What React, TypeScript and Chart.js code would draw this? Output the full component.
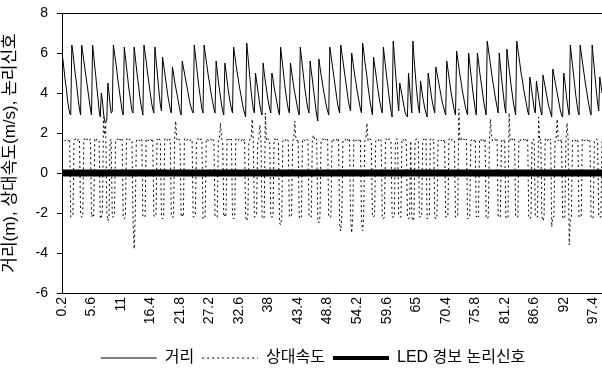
import React, { useEffect, useRef } from 'react';
import { Chart, registerables } from 'chart.js';

Chart.register(...registerables);

const N = 495;
const timeLabels: string[] = Array.from({ length: N }, (_, i) => String(Number((0.2 + 0.2 * i).toFixed(1))));
const xTickLabels = ['0.2', '5.6', '11', '16.4', '21.8', '27.2', '32.6', '38', '43.4', '48.8', '54.2', '59.6', '65', '70.4', '75.8', '81.2', '86.6', '92', '97.4'];
const yTitle = '거리(m), 상대속도(m/s), 논리신호';
const seriesNames = ['거리', '상대속도', 'LED 경보 논리신호'];

const distance = [
  6.0, 5.6, 5.1, 4.6, 4.2, 3.7, 3.3, 3.0, 2.9,
  6.4, 6.0, 5.5, 5.0, 4.6, 4.1, 3.6, 3.2, 2.9,
  6.4, 6.0, 5.6, 5.2, 4.8, 4.4, 4.0, 3.6, 3.2, 2.9,
  6.4, 5.9, 5.3, 4.8, 4.2, 3.7, 3.1, 2.8,
  4.0, 3.6, 3.0, 2.6, 2.5, 2.7,
  4.5, 4.0, 3.4, 3.0, 3.1,
  6.4, 6.0, 5.6, 5.2, 4.7, 4.3, 3.9, 3.5, 3.1, 2.9,
  6.3, 5.8, 5.3, 4.8, 4.3, 3.9, 3.5, 3.1, 3.0,
  6.3, 5.8, 5.3, 4.8, 4.4, 3.9, 3.5, 3.2, 2.9,
  6.4, 6.0, 5.6, 5.1, 4.7, 4.3, 3.9, 3.5, 3.2, 3.0,
  6.3, 5.7, 5.1, 4.5, 3.9, 3.4, 3.1,
  5.8, 5.4, 5.0, 4.6, 4.2, 3.8, 3.5, 3.2, 3.0,
  5.3, 5.0, 4.6, 4.3, 4.0, 3.7, 3.4, 3.1, 2.9,
  5.6, 5.3, 5.0, 4.7, 4.4, 4.1, 3.8, 3.5, 3.3, 3.1, 3.0,
  6.4, 5.9, 5.4, 4.9, 4.4, 4.0, 3.6, 3.2, 3.0,
  6.4, 6.0, 5.6, 5.2, 4.8, 4.5, 4.1, 3.8, 3.5, 3.2, 3.0,
  5.6, 5.1, 4.6, 4.2, 3.8, 3.4, 3.1, 2.9,
  5.5, 5.1, 4.6, 4.2, 3.8, 3.5, 3.2, 3.0,
  6.3, 5.9, 5.5, 5.1, 4.8, 4.4, 4.1, 3.8, 3.5, 3.2, 3.0, 2.8,
  6.5, 5.9, 5.3, 4.7, 4.1, 3.6, 3.2, 3.0,
  5.0, 4.6, 4.2, 3.8, 3.4, 3.1, 2.9,
  5.5, 5.0, 4.6, 4.2, 3.8, 3.5, 3.2, 3.0,
  5.0, 4.7, 4.3, 4.0, 3.7, 3.4, 3.1, 2.9,
  6.3, 5.8, 5.3, 4.8, 4.3, 3.9, 3.5, 3.2, 3.0,
  5.5, 5.1, 4.7, 4.3, 4.0, 3.7, 3.4, 3.1, 2.9,
  6.3, 5.8, 5.3, 4.8, 4.3, 3.9, 3.5, 3.2, 3.0,
  5.6, 5.1, 4.7, 4.2, 3.8, 3.3, 2.9, 2.6,
  5.7, 5.3, 4.9, 4.6, 4.2, 3.9, 3.6, 3.3, 3.1, 2.9,
  6.3, 5.9, 5.5, 5.1, 4.7, 4.3, 3.9, 3.5, 3.2, 3.0,
  6.4, 6.0, 5.6, 5.2, 4.8, 4.4, 4.0, 3.6, 3.3, 3.1,
  6.0, 5.6, 5.2, 4.8, 4.5, 4.1, 3.8, 3.5, 3.2, 3.0,
  6.5, 6.1, 5.6, 5.2, 4.8, 4.3, 3.9, 3.5, 3.2, 2.9,
  5.8, 5.4, 5.0, 4.6, 4.2, 3.8, 3.5, 3.2, 3.0,
  6.3, 5.8, 5.3, 4.8, 4.4, 3.9, 3.5, 3.1, 2.8,
  6.6, 5.9, 5.1, 4.4, 3.7, 3.1,
  4.5, 4.2, 3.9, 3.6, 3.3, 3.0, 2.9, 2.8,
  5.0, 4.3, 3.6, 3.0,
  6.6, 5.8, 5.1, 4.4, 3.8, 3.3, 3.0,
  4.6, 4.2, 3.8, 3.5, 3.2, 3.0, 2.8,
  5.0, 4.6, 4.2, 3.8, 3.5, 3.2, 3.0,
  5.3, 5.0, 4.7, 4.4, 4.1, 3.8, 3.5, 3.3, 3.1, 2.9,
  5.6, 5.2, 4.8, 4.4, 4.0, 3.7, 3.4, 3.1, 2.9,
  6.1, 5.7, 5.3, 4.9, 4.6, 4.2, 3.9, 3.6, 3.3, 3.1, 2.9,
  6.0, 5.5, 5.0, 4.5, 4.0, 3.6, 3.2, 2.9,
  6.0, 5.6, 5.1, 4.7, 4.3, 3.9, 3.5, 3.2, 2.9,
  6.6, 6.2, 5.8, 5.4, 5.0, 4.6, 4.3, 3.9, 3.6, 3.3, 3.0,
  6.0, 5.4, 4.8, 4.3, 3.8, 3.3, 3.0,
  6.2, 5.7, 5.2, 4.8, 4.3, 3.9, 3.5, 3.2, 2.9,
  6.6, 6.2, 5.8, 5.4, 5.0, 4.7, 4.3, 4.0, 3.7, 3.4, 3.1, 2.9,
  4.8, 4.4, 4.0, 3.6, 3.2, 3.0,
  4.6, 4.2, 3.8, 3.4, 3.1, 2.9,
  4.9, 4.6, 4.3, 4.0, 3.7, 3.4, 3.2, 3.0, 2.8,
  5.2, 4.9, 4.6, 4.3, 4.0, 3.7, 3.4, 3.1, 2.9, 2.8,
  5.0, 4.6, 4.1, 3.6, 3.2, 2.9,
  6.4, 5.9, 5.4, 4.9, 4.4, 3.9, 3.5, 3.1, 2.9,
  6.4, 6.0, 5.6, 5.2, 4.8, 4.4, 4.1, 3.7, 3.4, 3.1, 2.9,
  6.4, 5.8, 5.2, 4.6, 4.0, 3.5, 3.1,
  4.8, 4.4, 4.0,
];

const relSpeed = [
  1.6, 1.7, 1.7, 1.6, 1.7, 1.7, 1.6, 1.7, -2.2,
  -2.2, -2.1, 1.6, 1.7, 1.7, 1.6, 1.7, 1.7, -2.1,
  -2.2, -2.2, 1.7, 1.7, 1.6, 1.7, 1.7, 1.6, 1.7, -2.2,
  -2.1, -2.2, 1.7, 1.6, 1.7, 1.7, 1.6, -2.3,
  -2.2, -2.0, 2.8, 1.9, 2.4, -2.0,
  -2.4, -2.2, 1.6, 1.7, -2.2,
  -2.2, -2.1, 1.6, 1.7, 1.7, 1.6, 1.7, 1.6, 1.7, -2.2,
  -2.3, -2.2, 1.7, 1.7, 1.6, 1.7, 1.7, 1.6, -2.4,
  -3.8, -2.2, 1.6, 1.7, 1.7, 1.6, 1.7, 1.7, -2.2,
  -2.2, -2.2, 1.7, 1.7, 1.6, 1.7, 1.7, 1.6, 1.7, -2.1,
  -2.2, -2.1, 1.7, 1.6, 1.7, 1.6, -2.2,
  -2.3, -2.2, 1.7, 1.7, 1.6, 1.7, 1.6, 1.7, -2.2,
  -2.2, -2.2, 1.6, 2.6, 1.7, 1.6, 1.7, 1.6, -2.2,
  -2.1, -2.2, 1.7, 1.7, 1.6, 1.7, 1.7, 1.6, 1.7, 1.6, -2.2,
  -2.2, -2.1, 1.6, 1.7, 1.7, 1.6, 1.7, 1.7, -2.3,
  -2.2, -2.2, 1.7, 1.7, 1.6, 1.7, 1.7, 1.6, 1.7, 1.6, -2.2,
  -2.2, -2.2, 1.6, 1.7, 2.5, 1.7, 1.6, -2.2,
  -2.1, -2.2, 1.7, 1.6, 1.7, 1.6, 1.7, -2.2,
  -2.3, -2.2, 1.7, 1.7, 1.6, 1.7, 1.7, 1.6, 1.7, 1.6, 1.7, -2.2,
  -2.4, -2.2, 1.6, 1.7, 1.7, 2.7, 1.6, -2.2,
  -2.2, -2.1, 1.6, 1.7, 2.4, 1.7, -2.2,
  -2.3, -2.2, 3.0, 1.6, 1.7, 1.7, 1.6, -2.2,
  -2.2, -2.2, 1.7, 1.7, 1.6, 1.7, 1.6, -2.5,
  -2.6, -2.2, 1.6, 1.7, 1.7, 1.6, 1.7, 1.6, -2.2,
  -2.2, -2.1, 1.6, 1.7, 2.6, 1.7, 1.6, 1.7, -2.2,
  -2.3, -2.2, 1.7, 1.7, 1.6, 1.7, 1.7, 1.6, -2.2,
  -2.2, -2.2, 1.6, 1.9, 1.7, 1.6, 1.7, -2.4,
  -2.5, -2.2, 1.6, 1.7, 1.7, 1.6, 1.7, 1.6, 1.7, -2.2,
  -2.2, -2.2, 1.7, 1.7, 1.6, 1.7, 1.7, 1.6, 1.7, -2.6,
  -2.9, -2.2, 1.6, 1.7, 1.7, 1.6, 1.7, 1.6, 1.7, -2.2,
  -3.0, -2.2, 1.7, 1.7, 1.6, 1.7, 1.7, 1.6, 1.7, -2.3,
  -2.9, -2.2, 1.6, 1.7, 2.5, 1.6, 1.7, 1.7, 1.6, -2.2,
  -2.2, -2.1, 1.6, 1.7, 1.7, 1.6, 1.7, 1.6, -2.2,
  -2.3, -2.2, 1.7, 1.7, 1.6, 1.7, 1.7, 1.6, -2.2,
  -2.2, -2.2, 1.6, 1.7, 1.7, -2.1,
  -2.2, -2.2, 1.7, 1.7, 1.6, 1.7, 1.6, -2.2,
  -2.3, -2.2, 1.6, -2.2,
  -2.4, -2.2, 1.6, 1.7, 1.7, 1.6, -2.2,
  -2.2, -2.2, 1.6, 1.7, 1.6, 1.7, -2.3,
  -2.2, -2.1, 1.7, 1.7, 1.6, 1.7, -2.2,
  -2.3, -2.2, 1.6, 1.7, 1.7, 1.6, 1.7, 1.6, 1.7, -2.2,
  -2.2, -2.2, 1.7, 1.7, 1.6, 1.7, 1.7, 1.6, -2.2,
  -2.2, -2.2, 3.2, 1.6, 1.7, 1.7, 1.6, 1.7, 1.6, 1.7, -2.3,
  -2.2, -2.2, 1.6, 1.7, 1.7, 1.6, 1.7, -2.2,
  -2.1, -2.2, 1.7, 1.7, 1.6, 1.7, 1.6, 1.7, -2.2,
  -2.3, -2.2, 1.6, 2.7, 1.7, 1.6, 1.7, 1.7, 1.6, 1.7, -2.2,
  -2.2, -2.2, 1.6, 1.7, 1.6, 1.7, -2.2,
  -2.3, -2.2, 3.0, 1.6, 1.7, 1.7, 1.6, 1.7, -2.2,
  -2.2, -2.2, 1.7, 1.7, 1.6, 1.7, 1.7, 1.6, 1.7, 1.6, 1.7, -2.2,
  -2.3, -2.2, 1.6, 1.7, 1.6, -2.2,
  -2.2, -2.2, 2.8, 1.6, 1.7, -2.2,
  -2.4, -2.2, 1.7, 1.7, 1.6, 1.7, 1.6, 1.7, -2.7,
  -2.2, -2.2, 1.6, 1.7, 2.7, 1.6, 1.7, 1.6, 1.7, -2.2,
  -2.3, -2.2, 1.6, 2.5, 1.7, -3.6,
  -2.4, -2.2, 1.6, 1.7, 1.7, 1.6, 1.7, 1.6, -2.2,
  -2.2, -2.2, 1.7, 1.7, 1.6, 1.7, 1.7, 1.6, 1.7, 1.6, -2.2,
  -2.3, -2.2, 1.6, 1.7, 1.7, 1.6, -2.2,
  -2.2, -2.2, 1.6,
];

const ledSignal = [
  { x: '0.2', y: 0 },
  { x: '99', y: 0 },
];

const FONT = "'Liberation Sans', 'Noto Sans CJK KR', sans-serif";

const topBorder = {
  id: 'topBorder',
  afterDraw(chart: any) {
    const { ctx, chartArea: a } = chart;
    ctx.save();
    ctx.strokeStyle = '#000';
    ctx.lineWidth = 1;
    ctx.beginPath();
    ctx.moveTo(a.left, Math.round(a.top) + 0.5);
    ctx.lineTo(a.right, Math.round(a.top) + 0.5);
    ctx.stroke();
    ctx.restore();
  },
};

const legendShift = {
  id: 'legendShift',
  afterLayout(chart: any) {
    const l = chart.legend;
    if (l) {
      l.left += 12;
      l.right += 12;
      l.top += 5;
      l.bottom += 5;
    }
  },
};

export default function App() {
  const ref = useRef<HTMLCanvasElement | null>(null);
  useEffect(() => {
    if (!ref.current) return;
    const chart = new Chart(ref.current, {
      type: 'line',
      data: {
        labels: timeLabels,
        datasets: [
          {
            label: seriesNames[0],
            data: distance,
            borderColor: '#000',
            backgroundColor: '#000',
            borderWidth: 1,
            pointRadius: 0,
            tension: 0,
          },
          {
            label: seriesNames[1],
            data: relSpeed,
            borderColor: '#000',
            backgroundColor: '#000',
            borderWidth: 1,
            borderDash: [2, 3],
            pointRadius: 0,
            tension: 0,
          },
          {
            label: seriesNames[2],
            data: ledSignal as any,
            borderColor: '#000',
            backgroundColor: '#000',
            borderWidth: 7,
            pointRadius: 0,
            tension: 0,
          },
        ],
      },
      options: {
        animation: false,
        responsive: false,
        maintainAspectRatio: false,
        layout: { padding: { top: 0, right: 0, bottom: 0, left: 0 } },
        plugins: {
          tooltip: { enabled: false },
          legend: {
            position: 'bottom',
            labels: {
              usePointStyle: true,
              pointStyle: 'line',
              pointStyleWidth: 56,
              boxHeight: 14,
              padding: 8,
              color: '#000',
              font: { family: FONT, size: 16 },
              generateLabels: (c: any) => {
                const items = Chart.defaults.plugins.legend.labels.generateLabels(c);
                items.forEach((it: any) => {
                  if (it.datasetIndex === 1) it.lineDash = [2, 3];
                  if (it.datasetIndex === 2) it.lineWidth = 4;
                });
                return items;
              },
            },
          },
        },
        scales: {
          x: {
            type: 'category',
            offset: false,
            grid: { display: false, drawTicks: false },
            border: { display: true, color: '#000' },
            ticks: {
              autoSkip: false,
              minRotation: 90,
              maxRotation: 90,
              padding: 4,
              color: '#000',
              font: { family: FONT, size: 14 },
            },
            afterBuildTicks: (s: any) => {
              s.ticks = s.ticks.filter((t: any) => xTickLabels.includes(timeLabels[t.value]));
            },
            afterFit: (s: any) => {
              s.height = 44;
              s.paddingRight = 0;
              s.paddingLeft = 0;
            },
          },
          y: {
            min: -6,
            max: 8,
            ticks: { stepSize: 2, padding: 9, color: '#000', font: { family: FONT, size: 14 } },
            grid: { drawOnChartArea: false, drawTicks: true, tickLength: 5, color: '#000' },
            border: { display: true, color: '#000' },
            title: {
              display: true,
              text: yTitle,
              color: '#000',
              font: { family: FONT, size: 17 },
              padding: { top: 0, bottom: 0 },
            },
            afterFit: (s: any) => {
              s.width = 62;
              s.paddingTop = 13;
              s.paddingBottom = 0;
            },
          },
        },
      } as any,
      plugins: [topBorder, legendShift],
    });
    return () => chart.destroy();
  }, []);
  return (
    <div style={{ position: 'absolute', left: 0, top: 0, width: 602, height: 371, background: '#fff' }}>
      <canvas ref={ref} width={602} height={371} style={{ display: 'block' }} />
    </div>
  );
}
